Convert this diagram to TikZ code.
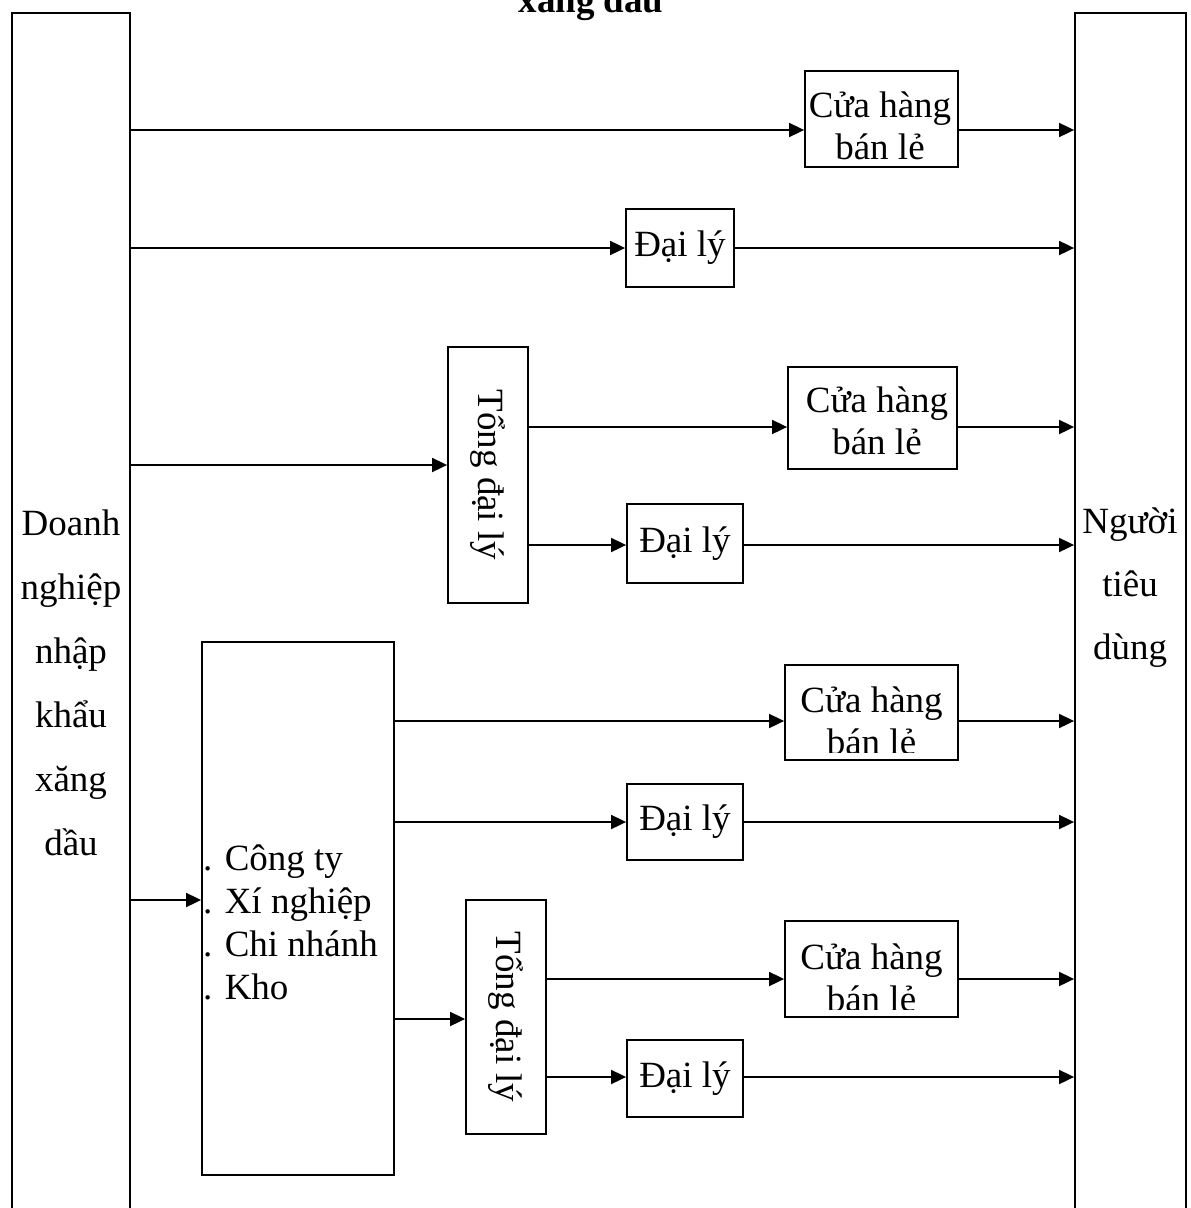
\documentclass[tikz,border=0pt]{standalone}
\usepackage{fontspec}
\setmainfont{Liberation Serif}
\usepackage{graphicx}
\usetikzlibrary{arrows.meta}

\begin{document}
\begin{tikzpicture}[x=1pt, y=-1pt, font=\fontsize{37}{42}\selectfont,
    box/.style={draw, line width=1.8pt, inner sep=0pt},
    lbl/.style={align=center, inner sep=0pt},
    arr/.style={line width=1.8pt, -{Triangle[length=15pt, width=14pt]}}]
    \useasboundingbox (0,0) rectangle (1191,1208);

    % Title
    \node[anchor=base, font=\fontsize{37}{42}\selectfont\bfseries] (title) at (591,12) {xăng dầu};

    % Draw nodes
    \node[box, anchor=north, minimum width=118pt, minimum height=1300pt] (dn) at (71,12) {};
    \node[lbl, font=\fontsize{37}{64}\selectfont] (dntext) at (71,683) {Doanh\\nghiệp\\nhập\\khẩu\\xăng\\dầu};
    \node[box, anchor=north, minimum width=111pt, minimum height=1300pt] (ntd) at (1130.5,12) {};
    \node[lbl, font=\fontsize{37}{63}\selectfont] (ntdtext) at (1130,588) {Người\\tiêu\\dùng};

    \node[box, minimum width=153pt, minimum height=96pt] (ch1) at (881.5,119) {};
    \node[lbl] (ch1text) at (880,126) {Cửa hàng\\bán lẻ};
    \node[box, minimum width=108pt, minimum height=78pt] (dl1) at (680,248) {Đại lý};

    \node[box, minimum width=80pt, minimum height=256pt] (tdl1) at (488,475) {\rotatebox{-90}{Tổng đại lý}};
    \node[box, minimum width=169pt, minimum height=102pt] (ch2) at (872.5,418) {};
    \node[lbl] (ch2text) at (877,421) {Cửa hàng\\bán lẻ};
    \node[box, minimum width=116pt, minimum height=79pt] (dl2) at (685,543.5) {Đại lý};

    \node[box, minimum width=192pt, minimum height=533pt] (ct) at (298,908.5) {};
    \node[lbl, align=left, anchor=west, font=\fontsize{37}{43}\selectfont] (cttext) at (203,922) {. Công ty\\. Xí nghiệp\\. Chi nhánh\\. Kho};

    \node[box, minimum width=173pt, minimum height=95pt] (ch3) at (871.5,712.5) {};
    \begin{scope}
        \clip ([yshift=8pt]ch3.south west) rectangle (ch3.north east);
        \node[lbl] (ch3text) at (871.5,721) {Cửa hàng\\bán lẻ};
    \end{scope}
    \node[box, minimum width=116pt, minimum height=76pt] (dl3) at (685,822) {Đại lý};

    \node[box, minimum width=80pt, minimum height=234pt] (tdl2) at (506,1017) {\rotatebox{-90}{Tổng đại lý}};
    \node[box, minimum width=173pt, minimum height=96pt] (ch4) at (871.5,969) {};
    \begin{scope}
        \clip ([yshift=8pt]ch4.south west) rectangle (ch4.north east);
        \node[lbl] (ch4text) at (871.5,978) {Cửa hàng\\bán lẻ};
    \end{scope}
    \node[box, minimum width=116pt, minimum height=77pt] (dl4) at (685,1078.5) {Đại lý};

    % Rows
    \coordinate (r1) at (0,130);
    \coordinate (r2) at (0,248);
    \coordinate (r3) at (0,465);
    \coordinate (r3a) at (0,427);
    \coordinate (r3b) at (0,545);
    \coordinate (r4) at (0,900);
    \coordinate (r4a) at (0,721);
    \coordinate (r4b) at (0,822);
    \coordinate (r4c) at (0,1019);
    \coordinate (r4d) at (0,979);
    \coordinate (r4e) at (0,1077);

    % Draw connections
    \draw[arr] (dn.east |- r1) -- (ch1.west |- r1);
    \draw[arr] (ch1.east |- r1) -- (ntd.west |- r1);
    \draw[arr] (dn.east |- r2) -- (dl1.west |- r2);
    \draw[arr] (dl1.east |- r2) -- (ntd.west |- r2);

    \draw[arr] (dn.east |- r3) -- (tdl1.west |- r3);
    \draw[arr] (tdl1.east |- r3a) -- (ch2.west |- r3a);
    \draw[arr] (ch2.east |- r3a) -- (ntd.west |- r3a);
    \draw[arr] (tdl1.east |- r3b) -- (dl2.west |- r3b);
    \draw[arr] (dl2.east |- r3b) -- (ntd.west |- r3b);

    \draw[arr] (dn.east |- r4) -- (ct.west |- r4);
    \draw[arr] (ct.east |- r4a) -- (ch3.west |- r4a);
    \draw[arr] (ch3.east |- r4a) -- (ntd.west |- r4a);
    \draw[arr] (ct.east |- r4b) -- (dl3.west |- r4b);
    \draw[arr] (dl3.east |- r4b) -- (ntd.west |- r4b);
    \draw[arr] (ct.east |- r4c) -- (tdl2.west |- r4c);
    \draw[arr] (tdl2.east |- r4d) -- (ch4.west |- r4d);
    \draw[arr] (ch4.east |- r4d) -- (ntd.west |- r4d);
    \draw[arr] (tdl2.east |- r4e) -- (dl4.west |- r4e);
    \draw[arr] (dl4.east |- r4e) -- (ntd.west |- r4e);
\end{tikzpicture}
\end{document}
